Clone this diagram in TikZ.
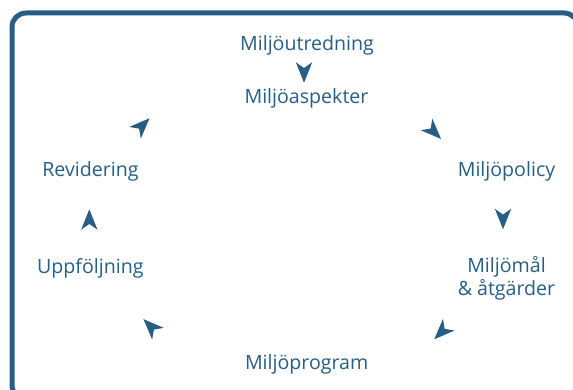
\documentclass[tikz,border=0pt]{standalone}
\usepackage{fontspec}
\setmainfont{Open Sans}
\definecolor{miljo-blue}{RGB}{39,94,134}
\tikzset{
    outer-frame/.style = {draw=miljo-blue, line width=5pt, rounded corners=14pt},
    step-label/.style = {text=miljo-blue, font=\fontsize{19.6pt}{22.3pt}\selectfont, align=center, inner sep=0pt, anchor=base},
    cycle-tip/.pic = {\fill[miljo-blue] (10.25,0) -- (-10.25,8.2) -- (-4.5,0) -- (-10.25,-8.2) -- cycle;},
}

\begin{document}
\begin{tikzpicture}[x=1pt, y=1pt]
\useasboundingbox (0,0) rectangle (573,389);
\draw[outer-frame] (12,-10) rectangle (578,376);

% the seven steps of the cycle
\node[step-label] (utr) at (307,338.3) {Miljöutredning};
\node[step-label] (asp) at (306.5,285.5) {Miljöaspekter};
\node[step-label] (pol) at (506.5,212.3) {Miljöpolicy};
\node[step-label] (mal) at (506.5,94) {Miljömål\\\& åtgärder};
\node[step-label] (prg) at (306.7,19.6) {Miljöprogram};
\node[step-label] (upp) at (90.3,115.7) {Uppföljning};
\node[step-label] (rev) at (90.5,212.5) {Revidering};

% arrow heads between the steps
\coordinate (utr-asp) at (304,316.5);
\coordinate (asp-pol) at (433.8,257.3);
\coordinate (pol-mal) at (503,170);
\coordinate (mal-prg) at (441.5,57);
\coordinate (prg-upp) at (150.7,62.6);
\coordinate (upp-rev) at (89.3,169.5);
\coordinate (rev-utr) at (142.3,263.5);
\foreach \pos/\dir in {utr-asp/-90, asp-pol/-45, pol-mal/-90, mal-prg/225, prg-upp/135, upp-rev/90, rev-utr/45}
    \pic[rotate=\dir] at (\pos) {cycle-tip};
\end{tikzpicture}
\end{document}
